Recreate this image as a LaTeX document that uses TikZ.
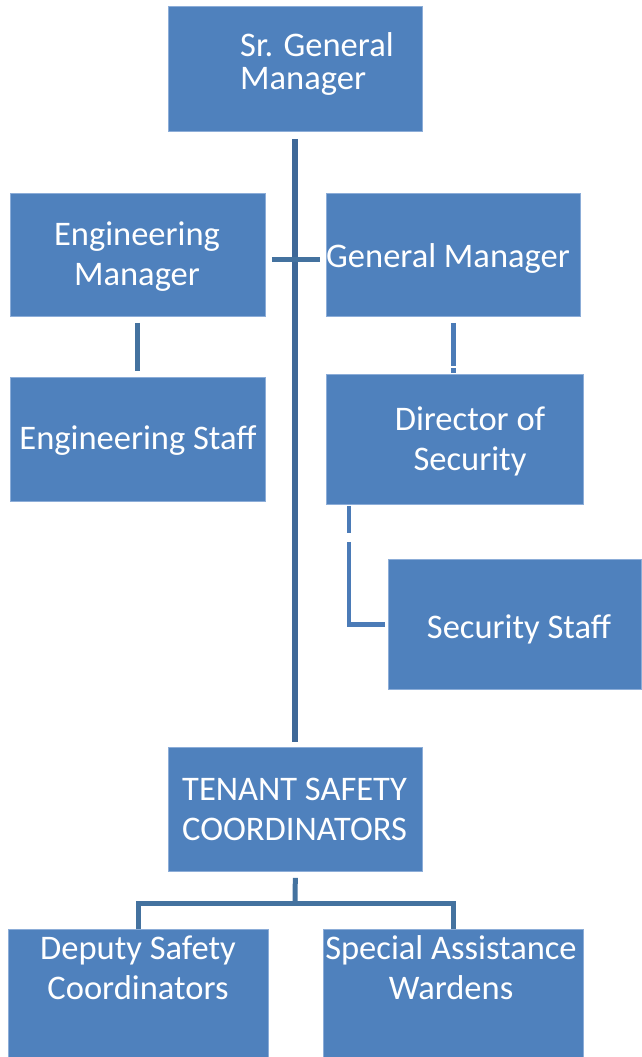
\documentclass[tikz,border=0pt]{standalone}
\usepackage{fontspec}
\setmainfont{Carlito}
\definecolor{boxblue}{HTML}{4F81BD}
\definecolor{boxedge}{HTML}{8CADD8}
\definecolor{linkdark}{HTML}{3E6898}
\definecolor{linkmid}{HTML}{44729F}
\definecolor{linklight}{HTML}{4B7BB7}
\begin{document}
\begin{tikzpicture}[x=1pt,y=-1pt,
  box/.style={fill=boxblue,draw=boxedge,line width=0.8pt,inner sep=0pt,anchor=north west},
  lbl/.style={text=white,font=\fontsize{34.5}{40}\selectfont,inner sep=0pt},
  tight/.style={font=\fontsize{34.5}{33}\selectfont},
  trunk/.style={draw=linkdark,line width=6pt},
  link/.style={draw=linkmid,line width=5pt},
  sublink/.style={draw=linklight,line width=4.5pt}]
\useasboundingbox (0,0) rectangle (641,1057);

% boxes
\node[box,minimum width=254pt,minimum height=125pt] (sgm) at (168,6) {};
\node[box,minimum width=255pt,minimum height=123pt] (em)  at (10,193) {};
\node[box,minimum width=254pt,minimum height=123pt] (gm)  at (326,193) {};
\node[box,minimum width=255pt,minimum height=124pt] (es)  at (10,377) {};
\node[box,minimum width=257pt,minimum height=130pt] (ds)  at (326,374) {};
\node[box,minimum width=253pt,minimum height=130pt] (ss)  at (388,559) {};
\node[box,minimum width=254pt,minimum height=124pt] (tsc) at (168,747) {};
\node[box,minimum width=260pt,minimum height=128pt] (dsc) at (8,929) {};
\node[box,minimum width=260pt,minimum height=128pt] (saw) at (323,929) {};

% labels
\node[lbl,tight,anchor=west,align=left] (sgmt) at (240,64) {Sr. General\\Manager};
\node[lbl,align=center] (emt) at (137,257) {Engineering\\Manager};
\node[lbl] (gmt) at (448,258) {General Manager};
\node[lbl] (est) at (138,441) {Engineering Staff};
\node[lbl,align=center] (dst) at (470,441) {Director of\\Security};
\node[lbl] (sst) at (519,629) {Security Staff};
\node[lbl,anchor=west,align=left] (tsct) at (182,809) {TENANT SAFETY\\COORDINATORS};
\node[lbl,align=center] (dsct) at (138,968) {Deputy Safety\\Coordinators};
\node[lbl,align=center] (sawt) at (451,968) {Special Assistance\\Wardens};

% connectors
\draw[trunk,shorten <=7pt,shorten >=5pt] (sgm.south) -- (tsc.north);
\draw[link,shorten <=6pt,shorten >=6pt] ([yshift=-4.5pt]em.east) -- ([yshift=-4.5pt]gm.west);
\draw[link,shorten <=6pt,shorten >=6pt] (em.south) -- (es.north);
\draw[sublink,shorten <=6pt,shorten >=1pt,dash pattern=on 43pt off 2pt on 20pt off 0pt]
  (gm.south) -- (gm.south |- ds.north);
\draw[sublink,shorten <=1pt,shorten >=3pt,dash pattern=on 27pt off 9pt on 400pt off 0pt]
  ([xshift=23pt]ds.south west) |- (ss.west);
\coordinate (split) at (295,903);
\draw[link,shorten <=6pt] (tsc.south) -- (split);
\draw[link,line join=miter] (dsc.north) |- (split) -| (saw.north);
\end{tikzpicture}
\end{document}
